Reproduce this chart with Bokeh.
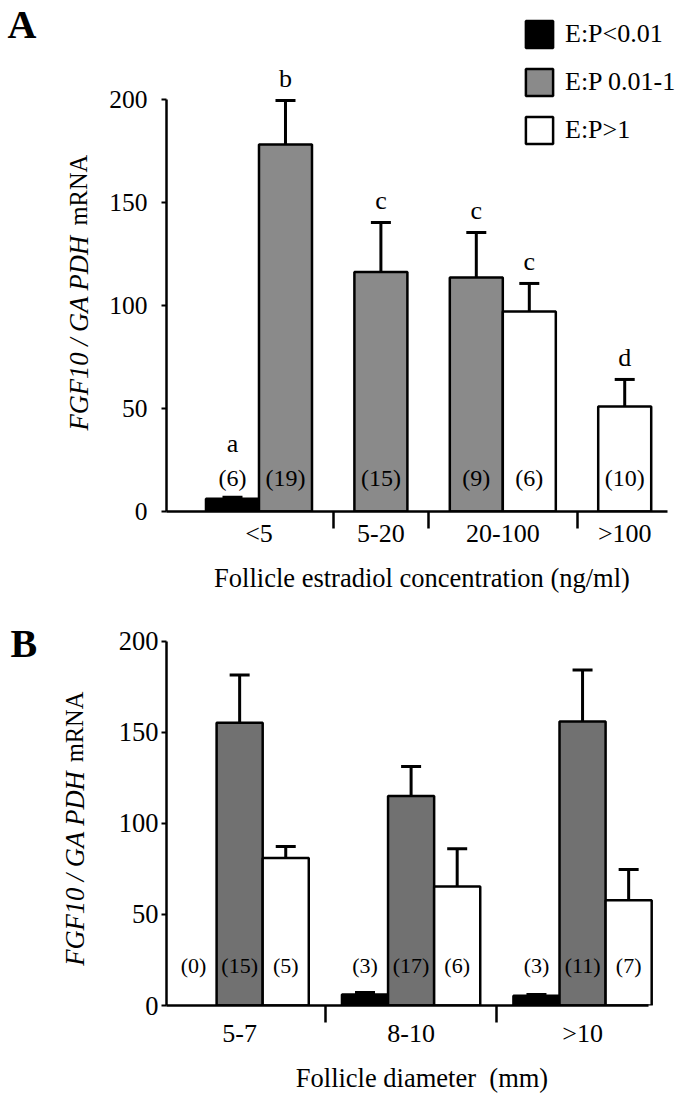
import numpy as np
from bokeh.plotting import figure
from bokeh.models import (ColumnDataSource, Whisker, TeeHead, Legend, LegendItem,
                          FixedTicker, Range1d)
from bokeh.layouts import column, row
from bokeh.embed import file_html
from bokeh.resources import INLINE
from bokeh.core.properties import value

nan = float("nan")

# ---------------- data ----------------
SERIES = ["E:P<0.01", "E:P 0.01-1", "E:P>1"]
Y_TICKS = [0, 50, 100, 150, 200]

# Panel A: by follicle estradiol concentration (ng/ml)
A_GROUPS = ["<5", "5-20", "20-100", ">100"]
A_BAR_GROUP = ["<5", "<5", "5-20", "20-100", "20-100", ">100"]
A_BAR_SERIES = ["E:P<0.01", "E:P 0.01-1", "E:P 0.01-1", "E:P 0.01-1", "E:P>1", "E:P>1"]
A_MEAN = [6.2, 178.2, 116.2, 113.6, 97.1, 51.0]
A_SEM = [0.7, 21.3, 24.1, 21.8, 13.6, 13.1]
A_N = [6, 19, 15, 9, 6, 10]
A_LETTER = ["a", "b", "c", "c", "c", "d"]

# Panel B: by follicle diameter (mm)
B_GROUPS = ["5-7", "8-10", ">10"]
B_BAR_GROUP = ["5-7", "5-7", "5-7", "8-10", "8-10", "8-10", ">10", ">10", ">10"]
B_BAR_SERIES = SERIES * 3
B_MEAN = [nan, 155.3, 81.0, 6.0, 115.0, 65.4, 5.4, 155.9, 57.8]
B_SEM = [nan, 26.2, 6.3, 1.1, 16.3, 20.7, 0.6, 28.3, 16.9]
B_N = [0, 15, 5, 3, 17, 6, 3, 11, 7]

Y_LABEL_ITALIC = "FGF10 / GA PDH"
Y_LABEL_PLAIN = "mRNA"
A_XTITLE = "Follicle estradiol concentration (ng/ml)"
B_XTITLE = "Follicle diameter\u00a0 (mm)"

# ---------------- style ----------------
FONT = "Liberation Serif"
COLORS_A = {"E:P<0.01": "#000000", "E:P 0.01-1": "#8a8a8a", "E:P>1": "#ffffff"}
COLORS_B = {"E:P<0.01": "#000000", "E:P 0.01-1": "#717171", "E:P>1": "#ffffff"}
LEFT_W = 100
MAIN_W = 577


def slot_layout(bar_group, groups, gap):
    xs = np.array([round(i + 0.5 + gap * groups.index(g), 4) for i, g in enumerate(bar_group)])
    centers, seps = [], []
    for k, grp in enumerate(groups):
        members = xs[[j for j, g in enumerate(bar_group) if g == grp]]
        centers.append(round(float(members.mean()), 4))
        if k < len(groups) - 1:
            nxt = xs[[j for j, g in enumerate(bar_group) if g == groups[k + 1]]]
            seps.append(round(float((members.max() + nxt.min()) / 2), 4))
    return xs, centers, seps


def make_panel(groups, bar_group, bar_series, mean, sem, n, colors, gap, xtitle,
               height, borders, xr, yr, axis_end, ytick_size, ystandoff, xstandoff,
               title_standoff, n_y, n_size, letters=None, legend_loc=None):
    xs, centers, seps = slot_layout(bar_group, groups, gap)
    mean = np.array(mean, dtype=float)
    sem = np.array(sem, dtype=float)
    upper = mean + sem

    p = figure(width=MAIN_W, height=height, x_range=Range1d(*xr), y_range=Range1d(*yr),
               output_backend="svg", toolbar_location=None,
               min_border_left=borders[0], min_border_right=borders[1],
               min_border_top=borders[2], min_border_bottom=borders[3])
    p.outline_line_color = None
    p.grid.visible = False
    p.background_fill_color = "white"
    p.border_fill_color = "white"

    # y axis
    yax = p.yaxis[0]
    yax.ticker = FixedTicker(ticks=Y_TICKS)
    yax.bounds = (0, 200)
    yax.axis_line_width = 2.5
    yax.axis_line_color = "black"
    yax.major_tick_in = 0
    yax.major_tick_out = 5
    yax.major_tick_line_width = 2
    yax.major_tick_line_color = "black"
    yax.minor_tick_line_color = None
    yax.major_label_text_font = FONT
    yax.major_label_text_font_size = ytick_size
    yax.major_label_text_color = "black"
    yax.major_label_standoff = ystandoff

    # x axis: group labels at centres, separators as minor ticks
    xax = p.xaxis[0]
    xax.ticker = FixedTicker(ticks=centers, minor_ticks=seps)
    xax.bounds = (xr[0], axis_end)
    xax.major_label_overrides = {c: g for c, g in zip(centers, groups)}
    xax.major_tick_in = 0
    xax.major_tick_out = 0
    xax.major_tick_line_color = None
    xax.minor_tick_in = 0
    xax.minor_tick_out = 17
    xax.minor_tick_line_width = 2.5
    xax.minor_tick_line_color = "black"
    xax.axis_line_width = 2.5
    xax.axis_line_color = "black"
    xax.major_label_text_font = FONT
    xax.major_label_text_font_size = "26px"
    xax.major_label_text_color = "black"
    xax.major_label_standoff = xstandoff
    xax.axis_label = xtitle
    xax.axis_label_text_font = FONT
    xax.axis_label_text_font_style = "normal"
    xax.axis_label_text_font_size = "26.5px"
    xax.axis_label_text_color = "black"
    xax.axis_label_standoff = title_standoff

    renderers = {}
    for s in SERIES:
        idx = [i for i, ss in enumerate(bar_series) if ss == s and not np.isnan(mean[i])]
        src = ColumnDataSource(dict(x=xs[idx], top=mean[idx]))
        renderers[s] = p.vbar(x="x", top="top", bottom=0, width=1, source=src,
                              fill_color=colors[s], line_color="black", line_width=2.5)

    ok = ~np.isnan(mean)
    wsrc = ColumnDataSource(dict(x=xs[ok], lower=mean[ok], upper=upper[ok]))
    p.add_layout(Whisker(base="x", lower="lower", upper="upper", source=wsrc,
                         dimension="height", line_width=3, line_color="black", level="overlay",
                         lower_head=None,
                         upper_head=TeeHead(size=20, line_width=3, line_color="black")))

    nsrc = ColumnDataSource(dict(x=xs, y=[n_y] * len(xs), t=[f"({v})" for v in n]))
    p.text(x="x", y="y", text="t", source=nsrc, text_font=value(FONT),
           text_font_size=n_size, text_align="center", text_baseline="middle",
           text_color="black")

    if letters is not None:
        anchor = np.where(np.isnan(upper), 0, np.maximum(upper, n_y + 6))
        lsrc = ColumnDataSource(dict(x=xs, y=anchor, t=letters))
        p.text(x="x", y="y", text="t", source=lsrc, y_offset=-22, text_font=value(FONT),
               text_font_size="26px", text_align="center", text_baseline="middle",
               text_color="black")

    if legend_loc is not None:
        legend = Legend(items=[LegendItem(label=s, renderers=[renderers[s]]) for s in SERIES],
                        location=legend_loc, glyph_width=34, glyph_height=34, spacing=14,
                        padding=0, margin=0, border_line_color=None,
                        background_fill_alpha=0, label_standoff=9,
                        label_text_font=FONT, label_text_font_size="26px",
                        label_text_color="black")
        p.add_layout(legend)
    return p


def make_left(height, border_top, border_bottom, letter, letter_xy, ylab_x, ylab_y0, ylab_y1):
    # frame of this strip lines up with the panel's frame; 1 unit = 1 pixel from figure bottom
    q = figure(width=LEFT_W, height=height, x_range=Range1d(0, LEFT_W),
               y_range=Range1d(border_bottom, height - border_top),
               output_backend="svg", toolbar_location=None, x_axis_type=None, y_axis_type=None,
               min_border_left=0, min_border_right=0,
               min_border_top=border_top, min_border_bottom=border_bottom)
    q.outline_line_color = None
    q.grid.visible = False
    q.text(x=[letter_xy[0]], y=[letter_xy[1]], text=[letter], text_font=value(FONT),
           text_font_style="bold", text_font_size="40px", text_align="left",
           text_baseline="middle", text_color="black")
    q.text(x=[ylab_x], y=[ylab_y0], text=[Y_LABEL_ITALIC], angle=np.pi / 2,
           text_font=value(FONT), text_font_style="italic", text_font_size="26.5px",
           text_align="left", text_baseline="middle", text_color="black")
    q.text(x=[ylab_x], y=[ylab_y1], text=[Y_LABEL_PLAIN], angle=np.pi / 2,
           text_font=value(FONT), text_font_size="24.5px",
           text_align="left", text_baseline="middle", text_color="black")
    return q


pA = make_panel(A_GROUPS, A_BAR_GROUP, A_BAR_SERIES, A_MEAN, A_SEM, A_N, COLORS_A, 0.8, A_XTITLE,
                height=600, borders=(66, 0, 10, 89), xr=(-0.745, 8.896), yr=(0, 243.2),
                axis_end=8.71, ytick_size="25.5px", ystandoff=14, xstandoff=-10,
                title_standoff=12, n_y=16.5, n_size="24px", letters=A_LETTER,
                legend_loc=(356, 364))
lA = make_left(600, 10, 89, "A", (7, 576), 78, 170, 375)

pB = make_panel(B_GROUPS, B_BAR_GROUP, B_BAR_SERIES, B_MEAN, B_SEM, B_N, COLORS_B, 0.72, B_XTITLE,
                height=495, borders=(66, 0, 12, 87), xr=(-0.087, 11.0), yr=(0, 215.8),
                axis_end=10.37, ytick_size="26.5px", ystandoff=3, xstandoff=-4,
                title_standoff=12, n_y=21.8, n_size="22px")
lB = make_left(495, 12, 87, "B", (10, 452), 74, 127, 332)

layout = column(row(lA, pA, spacing=0), row(lB, pB, spacing=0), spacing=0)
open("out.html", "w").write(file_html(layout, INLINE))
